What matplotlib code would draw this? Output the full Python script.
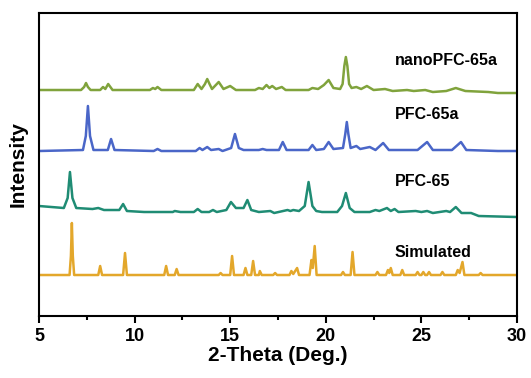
import matplotlib.pyplot as plt
from matplotlib.ticker import MultipleLocator

plt.rcParams['font.family'] = ['Liberation Sans', 'DejaVu Sans']
plt.rcParams['font.weight'] = 'bold'

# traced XRD patterns (2-theta in deg, intensity in a.u., already stacked)
nano_x = [5.0, 7.2, 7.36, 7.46, 7.56, 7.7, 8.2, 8.35, 8.47, 8.62, 8.85, 10.8, 10.96, 11.08, 11.2,
          11.4, 13.1, 13.3, 13.5, 13.68, 13.8, 13.92, 14.05, 14.4, 14.65, 15.0, 15.3, 16.3, 16.5,
          16.7, 16.9, 17.05, 17.2, 17.4, 17.7, 17.9, 19.1, 19.3, 19.6, 19.9, 20.15, 20.4, 20.75,
          20.88, 20.97, 21.05, 21.13, 21.22, 21.35, 21.6, 21.85, 22.15, 22.5, 23.1, 23.5, 24.25,
          24.6, 25.2, 25.6, 26.3, 26.8, 27.3, 28.5, 29.0, 30.0]
nano_y = [226, 226, 229, 233, 229, 226, 226, 229, 227, 232, 226, 226, 228, 227, 229,
          226, 226, 232, 227, 232, 237, 232, 227, 234, 227, 230, 226, 226, 228,
          227, 231, 228, 230, 227, 229, 226, 226, 228, 227, 231, 236, 228, 227,
          232, 250, 259, 250, 232, 228, 229, 227, 230, 226, 227, 225, 226,
          225, 226, 224, 225, 228, 225, 224, 223, 223]

a65_x = [5.0, 7.3, 7.45, 7.56, 7.67, 7.85, 8.6, 8.77, 8.95, 11.0, 11.2, 11.4, 13.2, 13.4, 13.55,
         13.8, 14.0, 14.4, 14.6, 15.05, 15.25, 15.45, 15.7, 16.5, 16.7, 16.9, 17.55, 17.75, 17.95,
         19.1, 19.3, 19.5, 19.9, 20.15, 20.4, 20.9, 21.02, 21.1, 21.18, 21.3, 21.6, 21.8, 22.3,
         22.6, 23.0, 23.3, 24.8, 25.3, 25.6, 26.6, 27.07, 27.35, 29.0, 30.0]
a65_y = [165, 166, 180, 210, 180, 166, 166, 177, 166, 165, 167, 165, 165, 168, 166,
         169, 166, 167, 165, 168, 182, 168, 166, 166, 167, 166, 166, 174, 166,
         166, 171, 166, 167, 174, 167, 168, 182, 194, 182, 168, 170, 167, 169,
         166, 173, 166, 166, 174, 166, 166, 174, 166, 165, 165]

p65_x = [5.0, 6.3, 6.5, 6.62, 6.75, 6.95, 7.8, 8.1, 8.4, 9.2, 9.4, 9.6, 10.5, 12.0, 12.1, 12.4,
         13.1, 13.3, 13.5, 13.9, 14.1, 14.3, 14.8, 15.04, 15.3, 15.5, 15.7, 15.9, 16.1, 16.5,
         17.1, 17.3, 18.0, 18.15, 18.3, 18.6, 18.9, 19.1, 19.3, 19.5, 19.8, 20.6, 20.85, 21.05,
         21.25, 21.5, 22.3, 22.6, 22.8, 23.2, 23.4, 23.6, 23.8, 24.7, 25.0, 25.3, 25.6, 26.3,
         26.5, 26.8, 27.1, 27.6, 28.0, 30.0]
p65_y = [110, 108, 118, 144, 118, 108, 107, 108, 106, 106, 112, 105, 104, 104, 105, 104,
         104, 107, 104, 104, 106, 104, 106, 114, 108, 108, 108, 116, 106, 104,
         105, 103, 106, 105, 106, 105, 110, 134, 110, 105, 104, 104, 110, 123,
         108, 104, 104, 106, 105, 108, 105, 107, 104, 105, 104, 105, 103, 105,
         104, 109, 103, 103, 100, 99]

sim_x = [5.0, 6.6, 6.67, 6.72, 6.77, 6.84, 8.1, 8.2, 8.3, 9.4, 9.5, 9.6, 11.55, 11.65, 11.75,
         12.1, 12.2, 12.3, 14.4, 14.5, 14.6, 15.0, 15.1, 15.2, 15.7, 15.8, 15.9, 16.1, 16.2,
         16.3, 16.5, 16.55, 16.65, 17.25, 17.35, 17.45, 18.1, 18.2, 18.3, 18.5, 18.6, 19.15,
         19.25, 19.32, 19.42, 19.52, 20.8, 20.9, 21.0, 21.3, 21.4, 21.5, 22.6, 22.7, 22.8,
         23.15, 23.25, 23.32, 23.4, 23.5, 23.9, 24.0, 24.1, 24.7, 24.8, 24.9, 25.0, 25.1, 25.2,
         25.3, 25.4, 25.5, 26.0, 26.1, 26.2, 26.8, 26.9, 27.0, 27.15, 27.25, 28.0, 28.1, 28.2,
         30.0]
sim_y = [41, 41, 60, 93, 60, 41, 41, 50, 41, 41, 63, 41, 41, 50, 41,
         41, 47, 41, 41, 43, 41, 41, 60, 41, 41, 48, 41, 41, 55,
         41, 41, 45, 41, 41, 43, 41, 41, 45, 42, 48, 41, 41,
         56, 48, 70, 41, 41, 44, 41, 41, 64, 41, 41, 44, 41,
         41, 46, 43, 48, 41, 41, 46, 41, 41, 44, 41, 41, 44, 41,
         41, 44, 41, 41, 44, 41, 41, 46, 43, 54, 41, 41, 43, 41,
         41]

names = ['nanoPFC-65a', 'PFC-65a', 'PFC-65', 'Simulated']
colors = ['#80a33c', '#4a66c8', '#1f8c74', '#e3a72b']
label_y = [256, 202, 135, 64]

fig = plt.figure(figsize=(5.31, 3.78), dpi=100)
ax = fig.add_axes([0.0734, 0.164, 0.9002, 0.8016])

series = [(nano_x, nano_y), (a65_x, a65_y), (p65_x, p65_y), (sim_x, sim_y)]
for (xs, ys), name, c, ly in zip(series, names, colors, label_y):
    ax.plot(xs, ys, color=c, lw=1.8)
    ax.text(23.6, ly, name, fontsize=11.5, fontweight='bold', va='center', ha='left')

ax.set_xlim(5, 30)
ax.set_ylim(0, 303)
ax.set_yticks([])
ax.xaxis.set_major_locator(MultipleLocator(5))
ax.xaxis.set_minor_locator(MultipleLocator(2.5))
ax.tick_params(axis='x', which='major', direction='out', length=5, width=1.5, labelsize=13)
ax.tick_params(axis='x', which='minor', direction='out', length=3, width=1.5)
for s in ax.spines.values():
    s.set_linewidth(1.5)

ax.set_xlabel('2-Theta (Deg.)', fontsize=15, fontweight='bold', labelpad=1)
ax.set_ylabel('Intensity', fontsize=15, fontweight='bold', labelpad=8)

fig.savefig('out.png', dpi=100)
